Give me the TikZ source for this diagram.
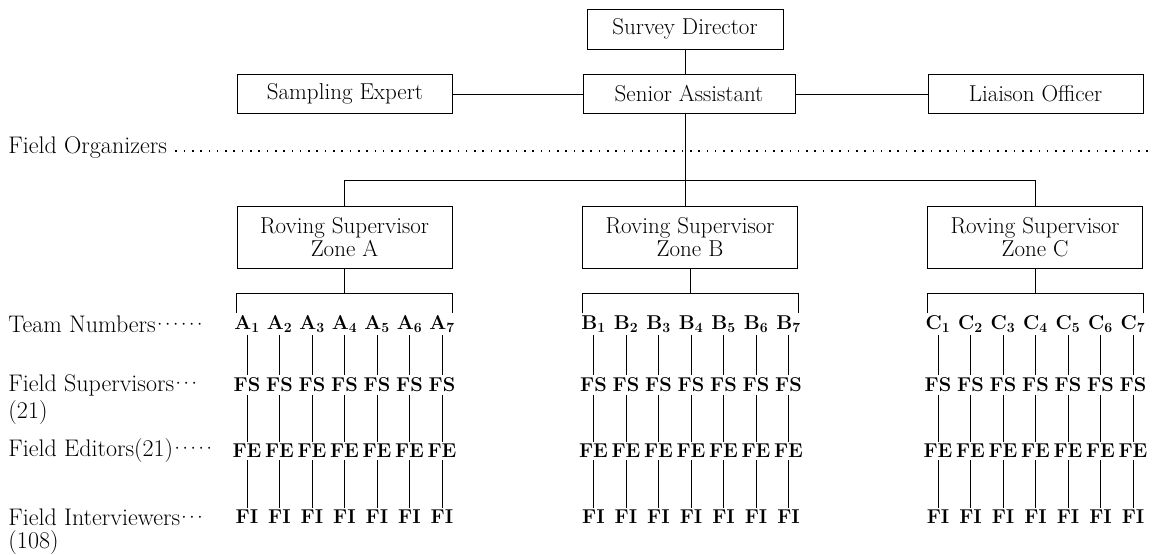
\documentclass[tikz,border=0pt]{standalone}
\usepackage{fontspec}
\usetikzlibrary{calc}
\newcommand{\ldts}[1]{\hbox to #1{\cleaders\hbox to 8pt{\hss·\hss}\hfill}}

\begin{document}
\begin{tikzpicture}[x=1pt,y=-1pt,line width=1pt,
  post/.style={draw,minimum width=215pt,minimum height=39pt,inner sep=2pt,font=\fontsize{23}{23}\selectfont},
  zone/.style={post,minimum height=62pt,align=center},
  side/.style={anchor=west,inner sep=0pt,font=\fontsize{24}{26}\selectfont},
  member/.style={inner sep=2pt,font=\fontsize{20}{24}\selectfont\bfseries},
  dotline/.style={line width=1.8pt,dash pattern=on 1.6pt off 6.7pt}]
  \useasboundingbox (0,0) rectangle (1169,554);
  \node[post,minimum width=196pt,minimum height=40pt] (sd) at (685,29) {Survey Director}; % top box
  \node[post,minimum width=212pt] (sa) at (689,94) {Senior Assistant};
  \node[post] (se) at (345,94) {Sampling Expert};
  \node[post] (lo) at (1035.5,94) {Liaison Officer};
  \node[zone] (rsA) at (344.5,237) {Roving Supervisor\\Zone A}; % zone boxes
  \node[zone] (rsB) at (690,237) {Roving Supervisor\\Zone B};
  \node[zone] (rsC) at (1035,237) {Roving Supervisor\\Zone C};
  \draw (sd.south) -- (sd.south |- sa.north);
  \draw (se) -- (sa);
  \draw (sa) -- (lo);
  \draw (sd.south |- sa.south) -- (sd.south |- rsB.north); % long line down to zone B
  \draw (rsA.north) -- ++(0,-25) -| (rsC.north);
  % labels on the left
  \node[side] (fo) at (8,148) {Field Organizers};
  \coordinate (foend) at (1152,148);
  \draw[dotline] ([shift={(8pt,3pt)}]fo.base east) -- ([yshift=3pt]fo.base east -| foend);
  \node[side] (tn) at (8,324) {Team Numbers\ldts{48pt}};
  \node[side] (fsl) at (8,385) {Field Supervisors\ldts{24pt}};
  \node[side,anchor=north west] (fsn) at ([yshift=-4pt]fsl.south west) {(21)};
  \node[side] (fel) at (8,451) {Field Editors(21)\ldts{40pt}};
  \node[side] (fil) at (8,517) {Field Interviewers\ldts{24pt}};
  \node[side,anchor=north west] (fin) at ([yshift=-4pt]fil.south west) {(108)};
  % teams of each zone
  \foreach \z/\cx in {A/344.5,B/691,C/1035.5}{
    \foreach \k in {1,...,7}{
      \node[member] (\z\k) at ({\cx+32.5*(\k-4)},324) {\z\textsubscript{\k}};
      \node[member] (FS\z\k) at ({\cx+32.5*(\k-4)},385) {FS};
      \node[member] (FE\z\k) at ({\cx+32.5*(\k-4)},451) {FE};
      \node[member] (FI\z\k) at ({\cx+32.5*(\k-4)},517) {FI};
      \draw (\z\k.south) -- (FS\z\k.north);
      \draw (FS\z\k.south) -- (FE\z\k.north);
      \draw (FE\z\k.south) -- (FI\z\k.north);
    }
    \draw (rs\z.south) -- ++(0,25) coordinate (j\z);
    \draw (\z1.north -| rs\z.west) |- (j\z) -| (\z7.north -| rs\z.east);
  }
\end{tikzpicture}
\end{document}
